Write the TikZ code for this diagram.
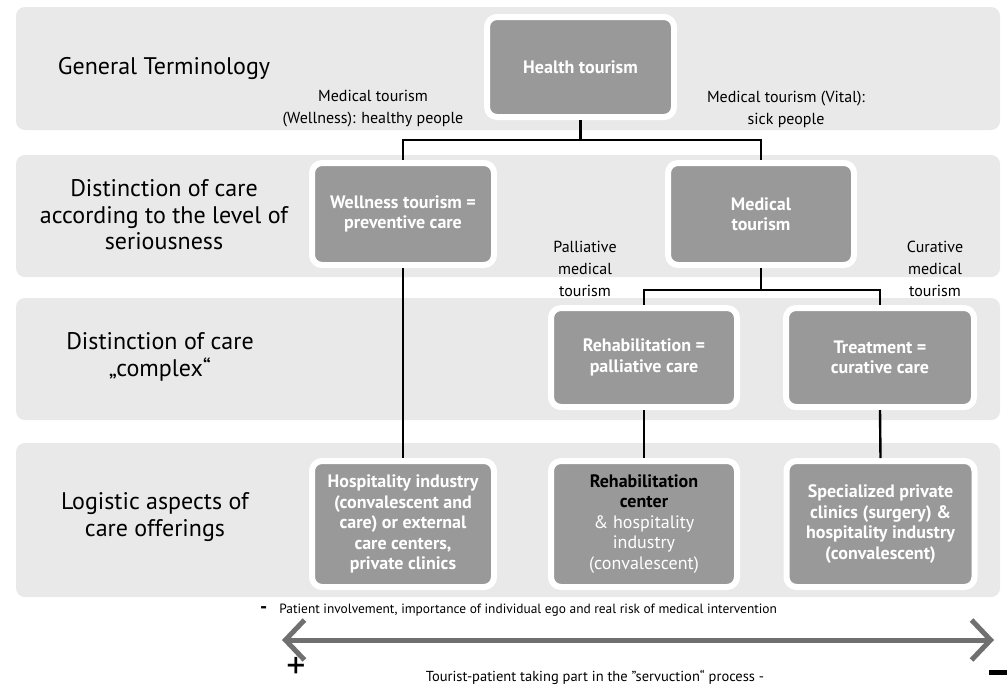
\documentclass[tikz,border=0pt]{standalone}
\usepackage{fontspec}
\setmainfont{PT Sans}
\usetikzlibrary{arrows.meta}
\definecolor{bandgray}{HTML}{E9E9E9}
\definecolor{boxgray}{HTML}{999999}
\definecolor{arrowgray}{HTML}{707070}
\tikzset{
  band/.style={fill=bandgray, draw=none, rounded corners=9pt},
  box/.style={fill=boxgray, draw=white, line width=6pt, rounded corners=10pt,
    align=center, text=white, font=\fontsize{18}{20.5}\selectfont\bfseries, inner sep=3pt},
  rowlabel/.style={align=center, font=\fontsize{24}{26.5}\selectfont},
  midlabel/.style={align=center, font=\fontsize{16}{22}\selectfont},
  conn/.style={line width=2.4pt, black},
}
\begin{document}
\begin{tikzpicture}[x=1pt,y=-1pt]
\useasboundingbox[fill=white] (0,0) rectangle (1007,689);
% bands
\path[band] (16,7) rectangle (1000,130);
\path[band] (16,155) rectangle (1000,277);
\path[band] (16,298) rectangle (1000,420);
\path[band] (16,443) rectangle (1000,597);
% row labels
\node[rowlabel] (l1) at (164,68) {General Terminology};
\node[rowlabel] (l2) at (164,215) {Distinction of care\\according to the level of\\seriousness};
\node[rowlabel] (l3) at (160,357) {Distinction of care\\„complex“};
\node[rowlabel] (l4) at (155,517) {Logistic aspects of\\care offerings};
% boxes
\node[box, minimum width=187pt, minimum height=100pt] (health) at (580.5,67) {Health tourism};
\node[box, minimum width=182pt, minimum height=102pt] (well) at (403,214) {Wellness tourism =\\preventive care};
\node[box, minimum width=186pt, minimum height=102pt] (med) at (761,214) {Medical\\tourism};
\node[box, minimum width=186pt, minimum height=99pt] (rehab) at (644,357.5) {Rehabilitation =\\palliative care};
\node[box, minimum width=188pt, minimum height=99pt] (treat) at (880,357.5) {Treatment =\\curative care};
\node[box, minimum width=182pt, minimum height=126pt] (hosp) at (403,524) {Hospitality industry\\(convalescent and\\care) or external\\care centers,\\private clinics};
\node[box, minimum width=186pt, minimum height=126pt] (rc) at (644,524) {\textcolor{black}{Rehabilitation}\\\textcolor{black}{center}\\{\mdseries\& hospitality}\\{\mdseries industry}\\{\mdseries (convalescent)}};
\node[box, minimum width=188pt, minimum height=126pt] (spec) at (880.5,524) {Specialized private\\clinics (surgery) \&\\hospitality industry\\(convalescent)};
% mid labels
\node[midlabel] (m1) at (373,109) {Medical tourism\\(Wellness): healthy people};
\node[midlabel] (m2) at (786,109) {Medical tourism (Vital):\\sick people};
\node[midlabel] (m3) at (585,269) {Palliative\\medical\\tourism};
\node[midlabel] (m4) at (935,269) {Curative\\medical\\tourism};
% connectors
\coordinate (j1) at (580.5,140);
\coordinate (j2) at (761,290);
\draw[conn] (health.south) -- (j1);
\draw[conn] (well.north) |- (j1) -| (med.north);
\draw[conn] (med.south) -- (j2);
\draw[conn] (rehab.north) |- (j2) -| (treat.north);
\draw[conn] (well.south) -- (hosp.north);
\draw[conn] (rehab.south) -- (rc.north);
\draw[conn] (treat.south) -- (spec.north);
% bottom
\node[anchor=west, font=\fontsize{13.4}{16}\selectfont, inner sep=0pt] (pt) at (260,610) {{\bfseries\fontsize{20}{20}\selectfont -}\hspace{12pt}Patient involvement, importance of individual ego and real risk of medical intervention};
\coordinate (al) at (282,640);
\coordinate (ar) at (994,640);
\draw[line width=5pt, arrowgray, {Straight Barb[length=19pt,width=40pt]}-{Straight Barb[length=19pt,width=40pt]}] (al) -- (ar);
\node[font=\fontsize{38}{38}\selectfont, inner sep=0pt] (plus) at (296,668) {+};
\node[font=\fontsize{14.5}{17}\selectfont] (tp) at (595,677) {Tourist-patient taking part in the \symbol{34}servuction“ process -};
\node[fill=black, minimum width=20pt, minimum height=5pt, inner sep=0pt] (minus) at (999,672) {};
\end{tikzpicture}
\end{document}
